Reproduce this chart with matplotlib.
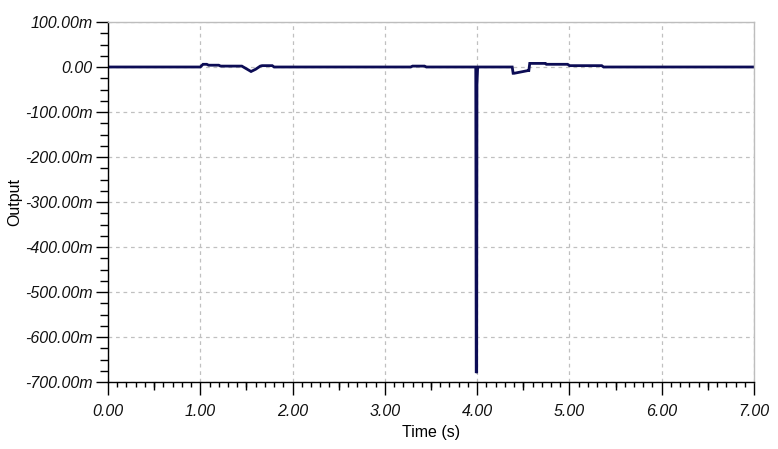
import matplotlib
matplotlib.use("Agg")
import matplotlib.pyplot as plt
from matplotlib.ticker import MultipleLocator, FuncFormatter

# Data (time in s, output in milli-units)
time_s = [0.00, 1.00, 1.03, 1.07, 1.09, 1.20, 1.22, 1.45, 1.50, 1.55, 1.60,
          1.65, 1.67, 1.78, 1.80, 3.28, 3.30, 3.43, 3.45, 3.985, 3.99, 3.995,
          3.998, 4.005, 4.01, 4.38, 4.39, 4.40, 4.55, 4.56, 4.57, 4.74, 4.75,
          4.98, 5.00, 5.35, 5.37, 7.00]
output_m = [0.0, 0.0, 6.0, 6.0, 4.0, 4.0, 2.0, 2.0, -4.0, -10.0, -5.0,
            2.0, 3.0, 3.0, 0.0, 0.0, 2.0, 2.0, 0.0, 0.0, -680.0, -678.0,
            -40.0, -3.0, 0.0, 0.0, -14.0, -14.0, -8.0, -8.0, 8.0, 8.0, 6.0,
            6.0, 3.0, 3.0, 0.0, 0.0]

x_major = [0, 1, 2, 3, 4, 5, 6, 7]
y_major = [100, 0, -100, -200, -300, -400, -500, -600, -700]

W, H = 778, 449
fig = plt.figure(figsize=(W / 100, H / 100), dpi=100)
ax = fig.add_axes([108 / W, 1 - 382 / H, (754 - 108) / W, (382 - 22) / H])

ax.plot(time_s, output_m, color="#0c0c55", lw=2.0, solid_joinstyle="miter")

ax.set_xlim(0, 7)
ax.set_ylim(-700, 100)
ax.set_xticks(x_major)
ax.set_yticks(y_major)
ax.xaxis.set_minor_locator(MultipleLocator(0.1))
ax.yaxis.set_minor_locator(MultipleLocator(25))

def fmt_m(v, pos):
    if abs(v) < 1e-9:
        return "0.00"
    return f"{v:.2f}m"

ax.yaxis.set_major_formatter(FuncFormatter(fmt_m))
ax.xaxis.set_major_formatter(FuncFormatter(lambda v, p: f"{v:.2f}"))

for lab in ax.get_xticklabels() + ax.get_yticklabels():
    lab.set_fontfamily("Liberation Sans")
    lab.set_fontstyle("italic")
    lab.set_fontsize(11.5)
    lab.set_color("#111111")

ax.tick_params(axis="both", which="major", direction="out", length=9,
               width=1.0, color="black")
ax.tick_params(axis="y", which="major", pad=2)
ax.tick_params(axis="x", which="major", pad=7)
ax.tick_params(axis="x", which="minor", direction="out", length=3.5, width=1.0)
ax.tick_params(axis="y", which="minor", direction="out", length=6, width=1.0)

# medium ticks at half units
sec = ax.secondary_xaxis("bottom")
sec.set_xticks([0.5, 1.5, 2.5, 3.5, 4.5, 5.5, 6.5])
sec.set_xticklabels([])
sec.tick_params(direction="out", length=5.5, width=1.0)
sec.spines["bottom"].set_visible(False)

ax.grid(True, which="major", color="#c0c0c0", linestyle=(0, (3, 3)), lw=0.9)
ax.set_axisbelow(True)

ax.spines["left"].set_color("black")
ax.spines["bottom"].set_color("black")
ax.spines["top"].set_color("#bdbdbd")
ax.spines["right"].set_color("#bdbdbd")
for s in ax.spines.values():
    s.set_linewidth(1.0)

ax.set_xlabel("Time (s)", family="Liberation Sans", size=11.5, labelpad=4)
ax.set_ylabel("Output", family="Liberation Sans", size=11.5, labelpad=2)

fig.savefig("out.png", dpi=100)
